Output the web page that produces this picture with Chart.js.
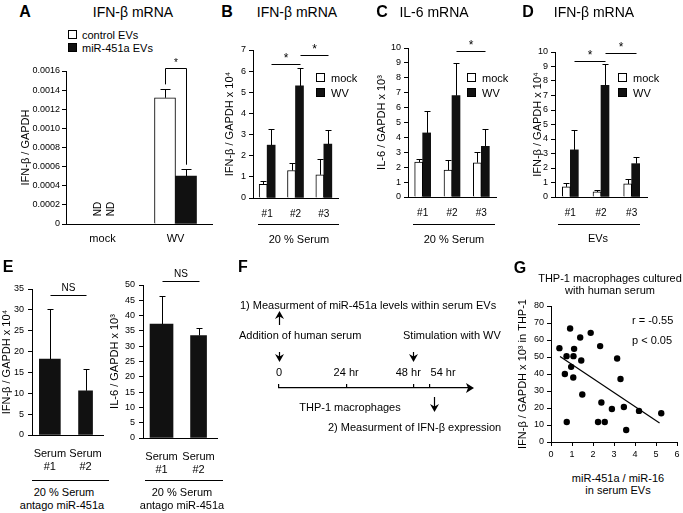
<!DOCTYPE html>
<html lang="en">
<head>
<meta charset="UTF-8">
<title>miR-451a EVs and IFN-β</title>
<script src="https://cdn.jsdelivr.net/npm/chart.js@4"></script>
<style>
  body { margin: 0; background: #fff; font-family: "Liberation Sans", Arial, Helvetica, sans-serif; color: #000; }
  #page { position: relative; width: 683px; height: 513px; overflow: hidden; }
  canvas { position: absolute; }
  .t { position: absolute; white-space: nowrap; line-height: 1; font-size: 11px; }
  .rule { position: absolute; height: 0; border-top: 1px solid #000; }
  .sq { position: absolute; width: 7px; height: 7px; border: 1px solid #000; }
</style>
</head>
<body>
<div id="page">
  <canvas id="chartA"></canvas>
  <canvas id="chartB"></canvas>
  <canvas id="chartC"></canvas>
  <canvas id="chartD"></canvas>
  <canvas id="chartE1"></canvas>
  <canvas id="chartE2"></canvas>
  <canvas id="chartF"></canvas>
  <canvas id="chartG"></canvas>
</div>
<script>
// A: IFN-b mRNA, EVs added to cells
const aCategories = ['mock', 'WV'];
const aControlEVs = [null, 0.00132];
const aControlEVsSD = [null, 0.00009];
const aMirEVs = [null, 0.00050];
const aMirEVsSD = [null, 0.00007];

// B, C, D: mock vs WV
const sampleLabels = ['#1', '#2', '#3'];
const bMock = [0.65, 1.3, 1.1];
const bMockSD = [0.15, 0.35, 0.75];
const bWV = [2.5, 5.3, 2.55];
const bWVSD = [0.75, 0.85, 0.65];

const cMock = [2.35, 1.8, 2.3];
const cMockSD = [0.2, 0.7, 0.7];
const cWV = [4.3, 6.8, 3.4];
const cWVSD = [1.5, 2.2, 1.15];

const dMock = [0.7, 0.35, 0.9];
const dMockSD = [0.25, 0.15, 0.35];
const dWV = [3.25, 7.7, 2.3];
const dWVSD = [1.4, 1.5, 0.45];

// E: antago miR-451a
const serumLabels = [['Serum', '#1'], ['Serum', '#2']];
const eIfn = [18.2, 10.6];
const eIfnSD = [12.0, 5.2];
const eIl6 = [37.2, 33.5];
const eIl6SD = [9.3, 2.3];

// F: timeline
const timePoints = [0, 24, 48, 54];
const timeLabels = ['0', '24 hr', '48 hr', '54 hr'];

// G: correlation
const mirRatio = [0.4, 0.91, 1.39, 1.89, 2.34, 0.74, 1.07, 1.1, 0.96, 0.66, 1.06, 1.44,
                  1.49, 0.75, 3.15, 3.31, 2.4, 2.9, 3.47, 2.24, 2.56, 3.58, 4.19, 5.25];
const ifnThp1 = [55.2, 66.8, 61.5, 64.2, 56.4, 50.5, 50.5, 54.8, 44.2, 40.0, 37.9, 47.9,
                 27.9, 11.8, 49.1, 37.1, 23.2, 19.4, 20.6, 11.8, 11.8, 7.1, 18.3, 16.9];
const fitX = [0.43, 5.17];
const fitY = [50.3, 11.2];

Chart.defaults.font.family = '"Liberation Sans", Arial, Helvetica, sans-serif';
Chart.defaults.font.size = 9;
Chart.defaults.color = '#000';
Chart.defaults.animation = false;
Chart.defaults.plugins.legend.display = false;
Chart.defaults.plugins.tooltip.enabled = false;

const FONT = '"Liberation Sans", Arial, sans-serif';
const only = (arr, k) => arr.map((v, i) => (i === k ? v : null));

// error bars, significance lines, ND labels
const marks = {
  id: 'marks',
  afterDatasetsDraw(chart, args, o) {
    const ctx = chart.ctx, ys = chart.scales.y, xs = chart.scales.x;
    ctx.save();
    ctx.strokeStyle = '#000';
    ctx.fillStyle = '#000';
    ctx.lineWidth = 1;
    const barX = (di, i) => {
      const el = chart.getDatasetMeta(di).data[i];
      return el && isFinite(el.x) ? el.x : xs.getPixelForValue(i);
    };
    (o.errors || []).forEach((sd, di) => {
      const vals = chart.data.datasets[di].data;
      chart.getDatasetMeta(di).data.forEach((bar, i) => {
        if (vals[i] == null || sd[i] == null) return;
        const x = Math.round(bar.x) + 0.5;
        const top = Math.round(ys.getPixelForValue(vals[i] + sd[i])) + 0.5;
        ctx.beginPath();
        ctx.moveTo(x, bar.y);
        ctx.lineTo(x, top);
        ctx.moveTo(x - o.cap, top);
        ctx.lineTo(x + o.cap, top);
        ctx.stroke();
      });
    });
    (o.sig || []).forEach(s => {
      const x1 = Math.round(barX(s.from[0], s.from[1])) + 0.5;
      const x2 = Math.round(barX(s.to[0], s.to[1])) + 0.5;
      const y = Math.round(ys.getPixelForValue(s.at)) + 0.5;
      ctx.beginPath();
      ctx.moveTo(x1, y);
      ctx.lineTo(x2, y);
      if (s.legs) {
        ctx.moveTo(x1, y);
        ctx.lineTo(x1, ys.getPixelForValue(s.legs[0]));
        ctx.moveTo(x2, y);
        ctx.lineTo(x2, ys.getPixelForValue(s.legs[1]));
      }
      ctx.stroke();
      ctx.font = (s.size || 12) + 'px ' + FONT;
      ctx.textAlign = 'center';
      ctx.textBaseline = 'alphabetic';
      ctx.fillText(s.text, (x1 + x2) / 2, y - (s.gap || 3));
    });
    // not detected: written upright beside the mock label
    (o.nd || []).forEach(dx => {
      ctx.save();
      ctx.translate(xs.getPixelForValue(0) + dx, ys.getPixelForValue(0) - 15);
      ctx.rotate(-Math.PI / 2);
      ctx.font = '10px ' + FONT;
      ctx.textAlign = 'center';
      ctx.textBaseline = 'middle';
      ctx.fillText('ND', 0, 0);
      ctx.restore();
    });
    ctx.restore();
  }
};

function valueAxis(max, step, title, pad, fmt) {
  return {
    min: 0, max: max,
    ticks: { stepSize: step, padding: pad, autoSkip: false, font: { size: 9 }, callback: fmt || (v => v) },
    grid: { display: true, drawOnChartArea: false, drawTicks: true, tickLength: 4, color: '#000' },
    border: { display: true, color: '#000' },
    title: { display: true, text: title, font: { size: 11 }, padding: { top: 0, bottom: 0 } }
  };
}

function catAxis(pad, size) {
  return {
    offset: true,
    ticks: { padding: pad, font: { size: size }, maxRotation: 0, autoSkip: false },
    grid: { display: false, drawTicks: false, tickLength: 0 },
    border: { display: true, color: '#000' }
  };
}

// box = canvas on the page, area = wanted plot area on the page
function makeChart(id, box, area, config) {
  const cv = document.getElementById(id);
  cv.width = box.w;
  cv.height = box.h;
  cv.style.left = box.x + 'px';
  cv.style.top = box.y + 'px';
  const o = config.options;
  o.responsive = false;
  o.devicePixelRatio = 1;
  o.layout = { padding: { left: 0, top: area.t - box.y, right: box.x + box.w - area.r, bottom: 0 } };
  o.scales.x.afterFit = s => { s.height = box.y + box.h - area.b; };
  o.scales.y.afterFit = s => { s.width = area.l - box.x; };
  config.plugins = [marks];
  return new Chart(cv, config);
}

const whiteBar = { backgroundColor: '#fff', borderColor: '#000', borderWidth: 1 };
const blackBar = { backgroundColor: '#111', borderColor: '#111', borderWidth: 0 };

function pairChart(id, box, area, mock, wv, mockSD, wvSD, max, step, title, sig) {
  return makeChart(id, box, area, {
    type: 'bar',
    data: {
      labels: sampleLabels,
      datasets: [
        Object.assign({ data: mock, barThickness: 8 }, whiteBar),
        Object.assign({ data: wv, barThickness: 8 }, blackBar)
      ]
    },
    options: {
      scales: { x: catAxis(10, 10), y: valueAxis(max, step, title, 3) },
      plugins: { marks: { errors: [mockSD, wvSD], cap: 3, sig: sig } }
    }
  });
}

makeChart('chartA', { x: 19, y: 55, w: 206, h: 195 }, { l: 66, t: 71, r: 212, b: 224 }, {
  type: 'bar',
  data: {
    labels: aCategories,
    datasets: [
      Object.assign({ data: aControlEVs, barThickness: 21 }, whiteBar),
      Object.assign({ data: aMirEVs, barThickness: 21 }, blackBar)
    ]
  },
  options: {
    scales: {
      x: catAxis(8, 11),
      y: valueAxis(0.0016, 0.0002, 'IFN-β / GAPDH', 2, v => (v === 0 ? '0' : v.toFixed(4)))
    },
    plugins: { marks: {
      errors: [aControlEVsSD, aMirEVsSD], cap: 5,
      sig: [{ from: [0, 1], to: [1, 1], at: 0.00163, legs: [0.00146, 0.00062], text: '*', size: 10, gap: 3 }],
      nd: [-4, 9]
    } }
  }
});

pairChart('chartB', { x: 223, y: 40, w: 120, h: 182 }, { l: 253, t: 50, r: 338, b: 198 },
  bMock, bWV, bMockSD, bWVSD, 7, 1, 'IFN-β / GAPDH x 10⁴',
  [{ from: [1, 0], to: [1, 1], at: 6.32, text: '*' }, { from: [1, 1], to: [1, 2], at: 6.76, text: '*' }]);

pairChart('chartC', { x: 375, y: 38, w: 125, h: 184 }, { l: 408, t: 48, r: 496, b: 197 },
  cMock, cWV, cMockSD, cWVSD, 10, 1, 'IL-6 / GAPDH x 10³',
  [{ from: [1, 1], to: [1, 2], at: 9.8, text: '*' }]);

pairChart('chartD', { x: 531, y: 40, w: 122, h: 182 }, { l: 555, t: 52, r: 647, b: 197 },
  dMock, dWV, dMockSD, dWVSD, 10, 1, 'IFN-β / GAPDH x 10⁴',
  [{ from: [1, 0], to: [1, 1], at: 9.4, text: '*' }, { from: [1, 1], to: [1, 2], at: 9.9, text: '*' }]);

function serumChart(id, box, area, vals, sd, widths, max, title, nsAt) {
  return makeChart(id, box, area, {
    type: 'bar',
    data: {
      labels: serumLabels,
      datasets: [0, 1].map(k => Object.assign({ data: only(vals, k), barThickness: widths[k], grouped: false }, blackBar))
    },
    options: {
      scales: { x: catAxis(12, 11), y: valueAxis(max, 5, title, 4) },
      plugins: { marks: {
        errors: [only(sd, 0), only(sd, 1)], cap: 3,
        sig: [{ from: [0, 0], to: [1, 1], at: nsAt, text: 'NS', size: 10, gap: 5 }]
      } }
    }
  });
}

serumChart('chartE1', { x: 0, y: 270, w: 115, h: 210 }, { l: 32, t: 289, r: 110, b: 435 },
  eIfn, eIfnSD, [21, 14], 35, 'IFN-β / GAPDH x 10⁴', 33.6);
serumChart('chartE2', { x: 108, y: 255, w: 120, h: 225 }, { l: 143, t: 285, r: 223, b: 438 },
  eIl6, eIl6SD, [23, 16], 50, 'IL-6 / GAPDH x 10³', 51.3);

// F: timeline drawn on a top x axis; tick labels nudged apart like the schematic
const timeLabelShift = [0, 0, -5, 13];
const arrows = {
  id: 'arrows',
  afterDraw(chart) {
    const ctx = chart.ctx, xs = chart.scales.x, y0 = chart.chartArea.top;
    const px = v => Math.round(xs.getPixelForValue(v)) + 0.5;
    ctx.save();
    ctx.strokeStyle = '#000';
    ctx.fillStyle = '#000';
    ctx.lineWidth = 1.2;
    ctx.font = '11px ' + FONT;
    ctx.textAlign = 'center';
    ctx.textBaseline = 'middle';
    timePoints.forEach((t, i) => ctx.fillText(timeLabels[i], xs.getPixelForValue(t) + timeLabelShift[i], y0 - 15));
    const head = (x, tip, dir) => {
      ctx.beginPath();
      ctx.moveTo(x, tip);
      ctx.lineTo(x - 4.5, tip - dir * 8);
      ctx.lineTo(x, tip - dir * 5.5);
      ctx.lineTo(x + 4.5, tip - dir * 8);
      ctx.closePath();
      ctx.fill();
    };
    // right end of the time axis
    const xe = xs.right;
    ctx.beginPath();
    ctx.moveTo(xe + 2, y0);
    ctx.lineTo(xe - 6, y0 - 5);
    ctx.lineTo(xe - 4, y0);
    ctx.lineTo(xe - 6, y0 + 5);
    ctx.closePath();
    ctx.fill();
    // 1) up arrow above time 0
    const x0 = px(timePoints[0]);
    ctx.beginPath(); ctx.moveTo(x0, y0 - 63); ctx.lineTo(x0, y0 - 72); ctx.stroke();
    head(x0, y0 - 77, -1);
    // serum addition and WV stimulation
    head(x0, y0 - 26, 1);
    ctx.beginPath(); ctx.moveTo(x0, y0 - 36); ctx.lineTo(x0, y0 - 31); ctx.stroke();
    const x48 = px(timePoints[2]);
    head(x48, y0 - 26, 1);
    ctx.beginPath(); ctx.moveTo(x48, y0 - 36); ctx.lineTo(x48, y0 - 31); ctx.stroke();
    // 2) down arrow after 54 hr
    const x54 = px(timePoints[3]) + 4;
    ctx.beginPath(); ctx.moveTo(x54, y0 + 9); ctx.lineTo(x54, y0 + 20); ctx.stroke();
    head(x54, y0 + 24, 1);
    ctx.restore();
  }
};

(function () {
  const cv = document.getElementById('chartF');
  cv.width = 250; cv.height = 130;
  cv.style.left = '240px'; cv.style.top = '300px';
  new Chart(cv, {
    type: 'scatter',
    data: { datasets: [{ data: [] }] },
    options: {
      responsive: false,
      devicePixelRatio: 1,
      layout: { padding: { left: 39, right: 18, top: 55, bottom: 10 } },
      scales: {
        x: {
          type: 'linear', position: 'top', min: 0, max: 69,
          afterBuildTicks: s => { s.ticks = timePoints.map(v => ({ value: v })); },
          afterFit: s => { s.height = 33; },
          ticks: { display: false },
          grid: { display: true, drawOnChartArea: false, drawTicks: true, tickLength: 4, color: '#000', lineWidth: 1.2 },
          border: { display: true, color: '#000', width: 1.2 }
        },
        y: { display: false, min: 0, max: 1 }
      }
    },
    plugins: [arrows]
  });
})();

// G: scatter with fitted line
makeChart('chartG', { x: 516, y: 296, w: 167, h: 166 }, { l: 551, t: 306, r: 677, b: 442 }, {
  type: 'scatter',
  data: {
    datasets: [
      {
        data: mirRatio.map((x, i) => ({ x: x, y: ifnThp1[i] })),
        pointRadius: 3.2, backgroundColor: '#000', borderColor: '#000', borderWidth: 0
      },
      {
        data: fitX.map((x, i) => ({ x: x, y: fitY[i] })),
        showLine: true, pointRadius: 0, borderColor: '#000', borderWidth: 1.2
      }
    ]
  },
  options: {
    scales: {
      x: {
        type: 'linear', min: 0, max: 6,
        ticks: { stepSize: 1, padding: 3, font: { size: 9 }, autoSkip: false, maxRotation: 0 },
        grid: { display: true, drawOnChartArea: false, drawTicks: true, tickLength: 4, color: '#000' },
        border: { display: true, color: '#000' }
      },
      y: valueAxis(80, 10, 'IFN-β / GAPDH x 10³ in THP-1', 3)
    }
  }
});

// text, legends and group rules
const page = document.getElementById('page');
function txt(s, x, y, size, opt) {
  const d = document.createElement('div');
  d.className = 't';
  d.textContent = s;
  d.style.left = x + 'px';
  d.style.top = y + 'px';
  d.style.fontSize = (size || 11) + 'px';
  if (opt && opt.bold) d.style.fontWeight = 'bold';
  d.style.transform = opt && opt.left ? 'translate(0,-50%)' : 'translate(-50%,-50%)';
  page.appendChild(d);
}
function rule(x, y, w) {
  const d = document.createElement('div');
  d.className = 'rule';
  d.style.left = x + 'px'; d.style.top = y + 'px'; d.style.width = w + 'px';
  page.appendChild(d);
}
function swatch(x, y, fill) {
  const d = document.createElement('div');
  d.className = 'sq';
  d.style.left = x + 'px'; d.style.top = y + 'px'; d.style.background = fill;
  page.appendChild(d);
}

const L = { left: true }, Bd = { bold: true };
txt('A', 25, 12, 16, Bd);
txt('IFN-β mRNA', 133, 12, 14);
swatch(68, 30, '#fff'); txt('control EVs', 82, 35, 11, L);
swatch(68, 43, '#111'); txt('miR-451a EVs', 82, 48, 11, L);

txt('B', 227, 12, 16, Bd);
txt('IFN-β mRNA', 297, 12, 14);
swatch(316, 73, '#fff'); txt('mock', 331, 78, 11, L);
swatch(316, 88, '#111'); txt('WV', 331, 93, 11, L);
rule(258, 224, 81); txt('20 % Serum', 299, 239, 11);

txt('C', 382, 12, 16, Bd);
txt('IL-6 mRNA', 434, 12, 14);
swatch(467, 73, '#fff'); txt('mock', 482, 78, 11, L);
swatch(467, 88, '#111'); txt('WV', 482, 93, 11, L);
rule(413, 224, 82); txt('20 % Serum', 454, 239, 11);

txt('D', 528, 12, 16, Bd);
txt('IFN-β mRNA', 594, 12, 14);
swatch(618, 73, '#fff'); txt('mock', 633, 78, 11, L);
swatch(618, 88, '#111'); txt('WV', 633, 93, 11, L);
rule(558, 224, 82); txt('EVs', 598, 238, 11);

txt('E', 8, 267, 16, Bd);
rule(32, 480, 77); txt('20 % Serum', 64, 492, 11); txt('antago miR-451a', 62, 505, 11);
rule(145, 480, 78); txt('20 % Serum', 182, 492, 11); txt('antago miR-451a', 182, 505, 11);

txt('F', 243, 267, 16, Bd);
txt('1) Measurment of miR-451a levels within serum EVs', 240, 305, 11, L);
txt('Addition of human serum', 239, 335, 11, L);
txt('Stimulation with WV', 403, 335, 11, L);
txt('THP-1 macrophages', 350, 407, 11);
txt('2) Measurment of IFN-β expression', 328, 427, 11, L);

txt('G', 520, 268, 16, Bd);
txt('THP-1 macrophages cultured', 610, 278, 11);
txt('with human serum', 610, 290, 11);
txt('r = -0.55', 632, 320, 11, L);
txt('p < 0.05', 632, 340, 11, L);
txt('miR-451a / miR-16', 618, 478, 11);
txt('in serum EVs', 618, 490, 11);
</script>
</body>
</html>
